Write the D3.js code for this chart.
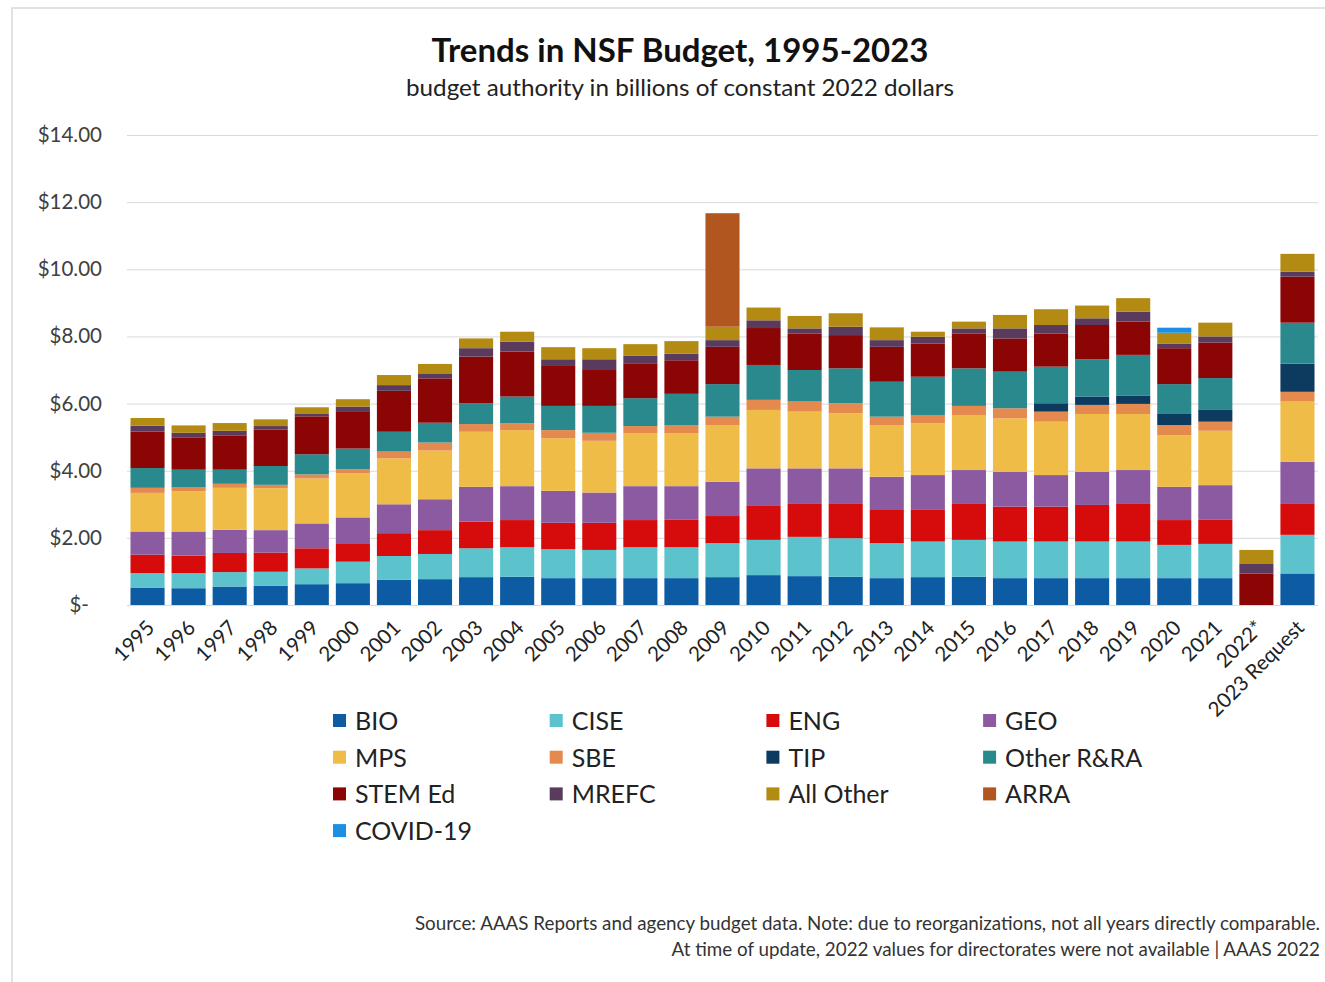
<!DOCTYPE html>
<html>
<head>
<meta charset="utf-8">
<script src="https://cdn.jsdelivr.net/npm/d3@7"></script>
<style>
  body { margin: 0; background: #fff; }
  svg { display: block; font-family: Lato, "Open Sans", sans-serif; }
</style>
</head>
<body>
<svg width="1325" height="982"></svg>
<script>
  // values (billions, constant 2022 $)
  const years = ["1995","1996","1997","1998","1999","2000","2001","2002","2003","2004",
    "2005","2006","2007","2008","2009","2010","2011","2012","2013","2014","2015","2016",
    "2017","2018","2019","2020","2021","2022*","2023 Request"];

  const BIO   = [.52,.50,.55,.57,.62,.65,.75,.77,.83,.84,.80,.80,.80,.80,.83,.89,.86,.84,.80,.83,.84,.80,.80,.80,.80,.80,.80,0,.94];
  const CISE  = [.43,.45,.43,.42,.47,.64,.71,.75,.86,.88,.86,.84,.92,.92,1.01,1.05,1.17,1.15,1.04,1.06,1.10,1.09,1.09,1.09,1.09,.99,1.02,0,1.15];
  const ENG   = [.55,.52,.57,.57,.60,.55,.68,.71,.79,.81,.79,.81,.81,.83,.81,1.01,.98,1.02,.99,.96,1.07,1.04,1.04,1.09,1.14,.74,.73,0,.94];
  const GEO   = [.69,.72,.69,.67,.74,.77,.86,.92,1.04,1.01,.95,.90,1.01,.99,1.02,1.12,1.06,1.06,.99,1.02,1.01,1.04,.94,.99,.99,.99,1.02,0,1.24];
  const MPS   = [1.15,1.20,1.25,1.25,1.34,1.31,1.37,1.45,1.64,1.67,1.57,1.54,1.57,1.57,1.69,1.74,1.69,1.64,1.54,1.54,1.64,1.59,1.59,1.72,1.67,1.54,1.62,0,1.79];
  const SBE   = [.15,.11,.12,.10,.12,.12,.20,.24,.23,.20,.24,.24,.22,.25,.25,.30,.30,.30,.25,.25,.27,.30,.30,.27,.30,.30,.27,0,.29];
  const TIP   = [0,0,0,0,0,0,0,0,0,0,0,0,0,0,0,0,0,0,0,0,0,0,.25,.25,.24,.33,.35,0,.84];
  const OTHER = [.59,.53,.42,.56,.60,.62,.59,.59,.62,.80,.72,.80,.83,.93,.97,1.04,.94,1.04,1.04,1.14,1.12,1.09,1.09,1.11,1.22,.89,.95,0,1.22];
  const STEM  = [1.09,.95,1.01,1.09,1.13,1.09,1.22,1.32,1.39,1.34,1.19,1.07,1.04,1.00,1.11,1.10,1.09,.99,1.04,.99,1.04,.99,.99,1.02,.99,1.07,1.06,.94,1.37];
  const MREFC = [.17,.15,.15,.10,.07,.16,.17,.15,.25,.29,.20,.32,.22,.20,.20,.23,.15,.25,.20,.20,.15,.30,.25,.20,.30,.14,.18,.30,.15];
  const ALLOTHER = [.23,.22,.23,.20,.20,.22,.30,.28,.29,.30,.36,.33,.35,.37,.40,.38,.37,.40,.38,.15,.20,.40,.47,.38,.40,.32,.41,.40,.53];
  const ARRA  = [0,0,0,0,0,0,0,0,0,0,0,0,0,0,3.38,0,0,0,0,0,0,0,0,0,0,0,0,0,0];
  const COVID = [0,0,0,0,0,0,0,0,0,0,0,0,0,0,0,0,0,0,0,0,0,0,0,0,0,.15,0,0,0];

  const seriesNames = ["BIO","CISE","ENG","GEO","MPS","SBE","TIP","Other R&RA","STEM Ed","MREFC","All Other","ARRA","COVID-19"];
  const seriesValues = [BIO,CISE,ENG,GEO,MPS,SBE,TIP,OTHER,STEM,MREFC,ALLOTHER,ARRA,COVID];
  const yTicks = [0,2,4,6,8,10,12,14];

  const colors = d3.scaleOrdinal()
    .domain(seriesNames)
    .range(["#0c5ba3","#5cc2cc","#d60b0b","#8c5aa0","#efbd47","#e58a4f","#0d3b60",
            "#2a898d","#8b0505","#5b3b5d","#b38b12","#b0561e","#1a8fe3"]);

  const svg = d3.select("svg");

  // table the stack layout needs, built from the arrays above
  const table = years.map((y, i) => {
    const row = { year: y };
    seriesNames.forEach((s, j) => { row[s] = seriesValues[j][i]; });
    return row;
  });
  const stacked = d3.stack().keys(seriesNames)(table);

  const x = d3.scaleBand().domain(years).range([127, 1318]).paddingInner(0.17).paddingOuter(0.085);
  const y = d3.scaleLinear().domain([0, 14]).range([605, 135]);

  // outer frame
  svg.append("path")
    .attr("d", "M12,982 L12,8 L1325,8")
    .attr("fill", "none")
    .attr("stroke", "#d9d9d9")
    .attr("stroke-width", 1.5);

  svg.append("text")
    .attr("x", 680).attr("y", 62)
    .attr("text-anchor", "middle")
    .attr("font-size", 33).attr("font-weight", "bold").attr("fill", "#111")
    .text("Trends in NSF Budget, 1995-2023");

  svg.append("text")
    .attr("x", 680).attr("y", 96)
    .attr("text-anchor", "middle")
    .attr("font-size", 23).attr("fill", "#222")
    .attr("textLength", 548).attr("lengthAdjust", "spacingAndGlyphs")
    .text("budget authority in billions of constant 2022 dollars");

  // gridlines + y labels
  const yAxis = d3.axisLeft(y)
    .tickValues(yTicks)
    .tickSize(-(1318 - 127))
    .tickPadding(25)
    .tickFormat(d => d === 0 ? "$-" : d3.format("$.2f")(d));

  const gy = svg.append("g").attr("transform", "translate(127,0)").call(yAxis);
  gy.select(".domain").remove();
  gy.selectAll(".tick line").attr("stroke", "#d9d9d9");
  gy.selectAll(".tick text")
    .attr("font-family", "Lato, sans-serif")
    .attr("font-size", 20.5).attr("fill", "#404040")
    .attr("dx", d => d === 0 ? -13 : 0);

  // stacked bars
  svg.append("g").selectAll("g")
    .data(stacked)
    .join("g")
      .attr("fill", d => colors(d.key))
    .selectAll("rect")
    .data(d => d)
    .join("rect")
      .attr("x", d => x(d.data.year))
      .attr("width", x.bandwidth())
      .attr("y", d => y(d[1]))
      .attr("height", d => y(d[0]) - y(d[1]));

  // x labels, rotated
  const xAxis = d3.axisBottom(x).tickSize(0).tickPadding(0);
  const gx = svg.append("g").attr("transform", "translate(0,605)").call(xAxis);
  gx.select(".domain").remove();
  gx.selectAll(".tick text")
    .attr("font-family", "Lato, sans-serif")
    .attr("font-size", 20.5).attr("fill", "#222")
    .attr("text-anchor", "end")
    .attr("dy", "0.35em")
    .attr("transform", "translate(3,19) rotate(-45)");

  // legend
  const legend = svg.append("g").selectAll("g")
    .data(seriesNames)
    .join("g")
      .attr("transform", (d, i) => `translate(${333 + (i % 4) * 216.7},${721 + Math.floor(i / 4) * 36.7})`);
  legend.append("rect")
    .attr("x", 0).attr("y", -7).attr("width", 13).attr("height", 13)
    .attr("fill", d => colors(d));
  legend.append("text")
    .attr("x", 22).attr("y", 0).attr("dy", "0.36em")
    .attr("font-size", 25).attr("fill", "#222")
    .text(d => d);

  // source notes (right aligned so they stay inside the page)
  svg.append("text")
    .attr("x", 1320).attr("y", 930)
    .attr("text-anchor", "end")
    .attr("font-size", 18.8).attr("fill", "#333")
    .text("Source: AAAS Reports and agency budget data. Note: due to reorganizations, not all years directly comparable.");
  svg.append("text")
    .attr("x", 1320).attr("y", 956)
    .attr("text-anchor", "end")
    .attr("font-size", 18.8).attr("fill", "#333")
    .text("At time of update, 2022 values for directorates were not available | AAAS 2022");
</script>
</body>
</html>
